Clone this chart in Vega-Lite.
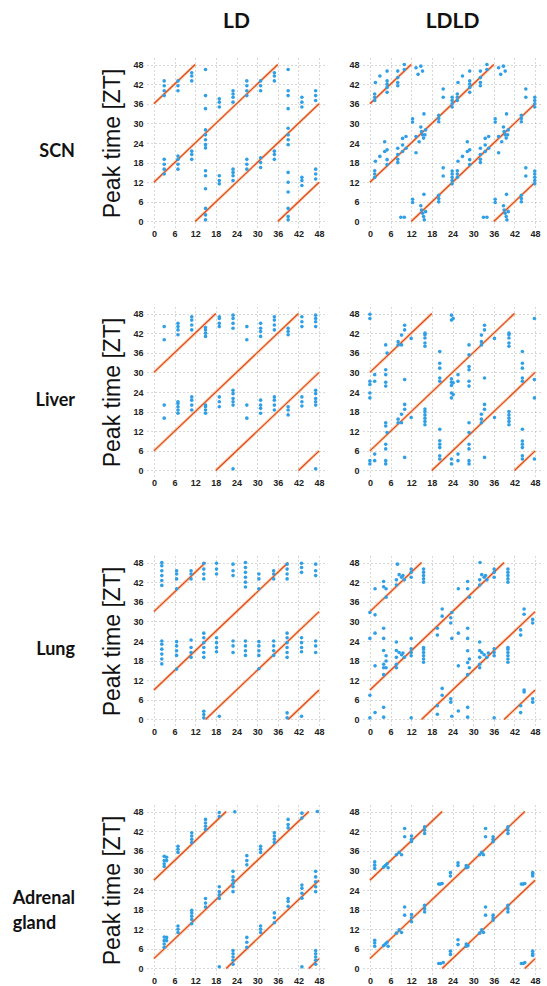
{
"$schema":"https://vega.github.io/schema/vega-lite/v6.json",
"background":"white",
"padding":{"left":12,"top":11,"right":0,"bottom":0},
"config":{
 "view":{"stroke":null},
 "axis":{"domain":false,"ticks":false,"labelOverlap":false,"tickCount":20,"labelFont":"Liberation Sans","labelFontSize":9,"labelFontWeight":"bold","labelColor":"#222","grid":true,"gridColor":"#a8a8a8","gridDash":[1,3],"gridOpacity":0.9,"gridWidth":1,"titleFont":"Liberation Sans","titleFontSize":23,"titleFontWeight":"normal","titleColor":"#111","titlePadding":8},
 "header":{"title":null}
},
"spacing":22,
"hconcat":[
{
 "data":{"name":"d"},
 "transform":[{"filter":"datum.c=='LD'"}],
 "facet":{
  "row":{"field":"t","type":"nominal","sort":["SCN","Liver","Lung","Adrenal gland"],"header":{"title":null,"labelOrient":"left","labelAngle":0,"labelAlign":"left","labelBaseline":"top","labelExpr":"split(datum.value,' ')","labelFont":"Lato","labelFontSize":18,"labelFontWeight":"bold","labelColor":"#111","labelPadding":27,"labelLineHeight":25}},
  "column":{"field":"c","type":"nominal","header":{"title":null,"labelFont":"Lato","labelFontSize":21,"labelFontWeight":"bold","labelColor":"#111","labelPadding":26}}
 },
 "spacing":{"row":69},
 "resolve":{"axis":{"x":"independent"}},
 "spec":{
  "width":179,"height":170,
  "layer":[
   {"transform":[{"filter":"isValid(datum.x2)"}],"mark":{"type":"rule","color":"#f7b67f","strokeWidth":3,"opacity":0.6},
    "encoding":{"x":{"field":"x","type":"quantitative","scale":{"domain":[-2,50],"nice":false},"axis":{"title":null,"values":[0,6,12,18,24,30,36,42,48],"tickCount":20,"labelOverlap":false,"labelPadding":1}},"x2":{"field":"x2"},"y":{"field":"y","type":"quantitative","scale":{"domain":[-2,50],"nice":false},"axis":{"title":"Peak time [ZT]","values":[0,6,12,18,24,30,36,42,48],"tickCount":20,"labelOverlap":false,"labelPadding":4}},"y2":{"field":"y2"}}},
   {"transform":[{"filter":"isValid(datum.x2)"}],"mark":{"type":"rule","color":"#e0481c","strokeWidth":1.2},
    "encoding":{"x":{"field":"x","type":"quantitative"},"x2":{"field":"x2"},"y":{"field":"y","type":"quantitative"},"y2":{"field":"y2"}}},
   {"transform":[{"filter":"!isValid(datum.x2)"}],"mark":{"type":"point","filled":true,"color":"#2f9fe6","size":13,"opacity":1},
    "encoding":{"x":{"field":"x","type":"quantitative"},"y":{"field":"y","type":"quantitative"}}}
  ]
 }
},
{
 "data":{"name":"d"},
 "transform":[{"filter":"datum.c=='LDLD'"}],
 "facet":{
  "row":{"field":"t","type":"nominal","sort":["SCN","Liver","Lung","Adrenal gland"],"header":{"title":null,"labels":false}},
  "column":{"field":"c","type":"nominal","header":{"title":null,"labelFont":"Lato","labelFontSize":21,"labelFontWeight":"bold","labelColor":"#111","labelPadding":26}}
 },
 "spacing":{"row":69},
 "resolve":{"axis":{"x":"independent"}},
 "spec":{
  "width":179,"height":170,
  "layer":[
   {"transform":[{"filter":"isValid(datum.x2)"}],"mark":{"type":"rule","color":"#f7b67f","strokeWidth":3,"opacity":0.6},
    "encoding":{"x":{"field":"x","type":"quantitative","scale":{"domain":[-2,50],"nice":false},"axis":{"title":null,"values":[0,6,12,18,24,30,36,42,48],"tickCount":20,"labelOverlap":false,"labelPadding":1}},"x2":{"field":"x2"},"y":{"field":"y","type":"quantitative","scale":{"domain":[-2,50],"nice":false},"axis":{"title":null,"values":[0,6,12,18,24,30,36,42,48],"tickCount":20,"labelOverlap":false,"labelPadding":4}},"y2":{"field":"y2"}}},
   {"transform":[{"filter":"isValid(datum.x2)"}],"mark":{"type":"rule","color":"#e0481c","strokeWidth":1.2},
    "encoding":{"x":{"field":"x","type":"quantitative"},"x2":{"field":"x2"},"y":{"field":"y","type":"quantitative"},"y2":{"field":"y2"}}},
   {"transform":[{"filter":"!isValid(datum.x2)"}],"mark":{"type":"point","filled":true,"color":"#2f9fe6","size":13,"opacity":1},
    "encoding":{"x":{"field":"x","type":"quantitative"},"y":{"field":"y","type":"quantitative"}}}
  ]
 }
}
],
"datasets":{"d":[
{"c":"LD","t":"SCN","x":0,"y":36,"x2":12,"y2":48},{"c":"LD","t":"SCN","x":0,"y":12,"x2":36,"y2":48},{"c":"LD","t":"SCN","x":12,"y":0,"x2":48,"y2":36},{"c":"LD","t":"SCN","x":36,"y":0,"x2":48,"y2":12},
{"c":"LDLD","t":"SCN","x":0,"y":36,"x2":12,"y2":48},{"c":"LDLD","t":"SCN","x":0,"y":12,"x2":36,"y2":48},{"c":"LDLD","t":"SCN","x":12,"y":0,"x2":48,"y2":36},{"c":"LDLD","t":"SCN","x":36,"y":0,"x2":48,"y2":12},
{"c":"LD","t":"Liver","x":0,"y":30,"x2":18,"y2":48},{"c":"LD","t":"Liver","x":0,"y":6,"x2":42,"y2":48},{"c":"LD","t":"Liver","x":18,"y":0,"x2":48,"y2":30},{"c":"LD","t":"Liver","x":42,"y":0,"x2":48,"y2":6},
{"c":"LDLD","t":"Liver","x":0,"y":30,"x2":18,"y2":48},{"c":"LDLD","t":"Liver","x":0,"y":6,"x2":42,"y2":48},{"c":"LDLD","t":"Liver","x":18,"y":0,"x2":48,"y2":30},{"c":"LDLD","t":"Liver","x":42,"y":0,"x2":48,"y2":6},
{"c":"LD","t":"Lung","x":0,"y":33,"x2":15,"y2":48},{"c":"LD","t":"Lung","x":0,"y":9,"x2":39,"y2":48},{"c":"LD","t":"Lung","x":15,"y":0,"x2":48,"y2":33},{"c":"LD","t":"Lung","x":39,"y":0,"x2":48,"y2":9},
{"c":"LDLD","t":"Lung","x":0,"y":33,"x2":15,"y2":48},{"c":"LDLD","t":"Lung","x":0,"y":9,"x2":39,"y2":48},{"c":"LDLD","t":"Lung","x":15,"y":0,"x2":48,"y2":33},{"c":"LDLD","t":"Lung","x":39,"y":0,"x2":48,"y2":9},
{"c":"LD","t":"Adrenal gland","x":0,"y":27,"x2":21,"y2":48},{"c":"LD","t":"Adrenal gland","x":0,"y":3,"x2":45,"y2":48},{"c":"LD","t":"Adrenal gland","x":21,"y":0,"x2":48,"y2":27},{"c":"LD","t":"Adrenal gland","x":45,"y":0,"x2":48,"y2":3},
{"c":"LDLD","t":"Adrenal gland","x":0,"y":27,"x2":21,"y2":48},{"c":"LDLD","t":"Adrenal gland","x":0,"y":3,"x2":45,"y2":48},{"c":"LDLD","t":"Adrenal gland","x":21,"y":0,"x2":48,"y2":27},{"c":"LDLD","t":"Adrenal gland","x":45,"y":0,"x2":48,"y2":3},

{"c":"LD","t":"SCN","x":3,"y":38.5},{"c":"LD","t":"SCN","x":3,"y":40},{"c":"LD","t":"SCN","x":3,"y":41.5},{"c":"LD","t":"SCN","x":3,"y":43},{"c":"LD","t":"SCN","x":3,"y":14.5},{"c":"LD","t":"SCN","x":3,"y":16},{"c":"LD","t":"SCN","x":3,"y":17.5},{"c":"LD","t":"SCN","x":3,"y":19},
{"c":"LD","t":"SCN","x":7,"y":40},{"c":"LD","t":"SCN","x":7,"y":41.5},{"c":"LD","t":"SCN","x":7,"y":43},{"c":"LD","t":"SCN","x":7,"y":16},{"c":"LD","t":"SCN","x":7,"y":17.5},{"c":"LD","t":"SCN","x":7,"y":19},{"c":"LD","t":"SCN","x":7,"y":20},
{"c":"LD","t":"SCN","x":11,"y":43},{"c":"LD","t":"SCN","x":11,"y":44.5},{"c":"LD","t":"SCN","x":11,"y":45.5},{"c":"LD","t":"SCN","x":11,"y":19},{"c":"LD","t":"SCN","x":11,"y":20.5},{"c":"LD","t":"SCN","x":11,"y":21.5},
{"c":"LD","t":"SCN","x":15,"y":46.5},{"c":"LD","t":"SCN","x":15,"y":38.5},{"c":"LD","t":"SCN","x":15,"y":34.5},{"c":"LD","t":"SCN","x":15,"y":28},{"c":"LD","t":"SCN","x":15,"y":26.5},{"c":"LD","t":"SCN","x":15,"y":25},{"c":"LD","t":"SCN","x":15,"y":23.5},{"c":"LD","t":"SCN","x":15,"y":22.5},{"c":"LD","t":"SCN","x":15,"y":15.5},{"c":"LD","t":"SCN","x":15,"y":14},{"c":"LD","t":"SCN","x":15,"y":10},{"c":"LD","t":"SCN","x":15,"y":4},{"c":"LD","t":"SCN","x":15,"y":2},{"c":"LD","t":"SCN","x":15,"y":0.5},
{"c":"LD","t":"SCN","x":19,"y":35},{"c":"LD","t":"SCN","x":19,"y":36.5},{"c":"LD","t":"SCN","x":19,"y":37.5},{"c":"LD","t":"SCN","x":19,"y":11.5},{"c":"LD","t":"SCN","x":19,"y":12.5},{"c":"LD","t":"SCN","x":19,"y":14},
{"c":"LD","t":"SCN","x":23,"y":36.5},{"c":"LD","t":"SCN","x":23,"y":38},{"c":"LD","t":"SCN","x":23,"y":39},{"c":"LD","t":"SCN","x":23,"y":40},{"c":"LD","t":"SCN","x":23,"y":12.5},{"c":"LD","t":"SCN","x":23,"y":14},{"c":"LD","t":"SCN","x":23,"y":15},{"c":"LD","t":"SCN","x":23,"y":16},
{"c":"LD","t":"SCN","x":27,"y":38.5},{"c":"LD","t":"SCN","x":27,"y":40},{"c":"LD","t":"SCN","x":27,"y":41.5},{"c":"LD","t":"SCN","x":27,"y":43},{"c":"LD","t":"SCN","x":27,"y":16},{"c":"LD","t":"SCN","x":27,"y":17.5},{"c":"LD","t":"SCN","x":27,"y":19},
{"c":"LD","t":"SCN","x":31,"y":40},{"c":"LD","t":"SCN","x":31,"y":41.5},{"c":"LD","t":"SCN","x":31,"y":43},{"c":"LD","t":"SCN","x":31,"y":16.5},{"c":"LD","t":"SCN","x":31,"y":18},{"c":"LD","t":"SCN","x":31,"y":19.5},
{"c":"LD","t":"SCN","x":35,"y":43},{"c":"LD","t":"SCN","x":35,"y":44.5},{"c":"LD","t":"SCN","x":35,"y":45.5},{"c":"LD","t":"SCN","x":35,"y":19},{"c":"LD","t":"SCN","x":35,"y":20.5},{"c":"LD","t":"SCN","x":35,"y":21.5},
{"c":"LD","t":"SCN","x":39,"y":46.5},{"c":"LD","t":"SCN","x":39,"y":40},{"c":"LD","t":"SCN","x":39,"y":38.5},{"c":"LD","t":"SCN","x":39,"y":34.5},{"c":"LD","t":"SCN","x":39,"y":28.5},{"c":"LD","t":"SCN","x":39,"y":26.5},{"c":"LD","t":"SCN","x":39,"y":25},{"c":"LD","t":"SCN","x":39,"y":23.5},{"c":"LD","t":"SCN","x":39,"y":15},{"c":"LD","t":"SCN","x":39,"y":12},{"c":"LD","t":"SCN","x":39,"y":9},{"c":"LD","t":"SCN","x":39,"y":4},{"c":"LD","t":"SCN","x":39,"y":1.5},{"c":"LD","t":"SCN","x":39,"y":0.5},
{"c":"LD","t":"SCN","x":43,"y":35},{"c":"LD","t":"SCN","x":43,"y":36.5},{"c":"LD","t":"SCN","x":43,"y":38},{"c":"LD","t":"SCN","x":43,"y":11},{"c":"LD","t":"SCN","x":43,"y":12.5},{"c":"LD","t":"SCN","x":43,"y":13.5},
{"c":"LD","t":"SCN","x":47,"y":37},{"c":"LD","t":"SCN","x":47,"y":38.5},{"c":"LD","t":"SCN","x":47,"y":40},{"c":"LD","t":"SCN","x":47,"y":13},{"c":"LD","t":"SCN","x":47,"y":14.5},{"c":"LD","t":"SCN","x":47,"y":16},

{"c":"LD","t":"Liver","x":3,"y":44},{"c":"LD","t":"Liver","x":3,"y":40},{"c":"LD","t":"Liver","x":3,"y":20},{"c":"LD","t":"Liver","x":3,"y":16},
{"c":"LD","t":"Liver","x":7,"y":41.5},{"c":"LD","t":"Liver","x":7,"y":43},{"c":"LD","t":"Liver","x":7,"y":44},{"c":"LD","t":"Liver","x":7,"y":45},{"c":"LD","t":"Liver","x":7,"y":17.5},{"c":"LD","t":"Liver","x":7,"y":18.5},{"c":"LD","t":"Liver","x":7,"y":19.5},{"c":"LD","t":"Liver","x":7,"y":20.5},{"c":"LD","t":"Liver","x":7,"y":21},
{"c":"LD","t":"Liver","x":11,"y":43},{"c":"LD","t":"Liver","x":11,"y":44.5},{"c":"LD","t":"Liver","x":11,"y":46},{"c":"LD","t":"Liver","x":11,"y":47},{"c":"LD","t":"Liver","x":11,"y":18.5},{"c":"LD","t":"Liver","x":11,"y":20},{"c":"LD","t":"Liver","x":11,"y":21.5},{"c":"LD","t":"Liver","x":11,"y":22.5},
{"c":"LD","t":"Liver","x":15,"y":41},{"c":"LD","t":"Liver","x":15,"y":42},{"c":"LD","t":"Liver","x":15,"y":43},{"c":"LD","t":"Liver","x":15,"y":43.7},{"c":"LD","t":"Liver","x":15,"y":17.5},{"c":"LD","t":"Liver","x":15,"y":18.5},{"c":"LD","t":"Liver","x":15,"y":19.5},{"c":"LD","t":"Liver","x":15,"y":20},
{"c":"LD","t":"Liver","x":19,"y":44},{"c":"LD","t":"Liver","x":19,"y":45},{"c":"LD","t":"Liver","x":19,"y":46.5},{"c":"LD","t":"Liver","x":19,"y":47},{"c":"LD","t":"Liver","x":19,"y":19.5},{"c":"LD","t":"Liver","x":19,"y":21},{"c":"LD","t":"Liver","x":19,"y":22.5},
{"c":"LD","t":"Liver","x":23,"y":43.5},{"c":"LD","t":"Liver","x":23,"y":45},{"c":"LD","t":"Liver","x":23,"y":46.5},{"c":"LD","t":"Liver","x":23,"y":47.5},{"c":"LD","t":"Liver","x":23,"y":20},{"c":"LD","t":"Liver","x":23,"y":21},{"c":"LD","t":"Liver","x":23,"y":22},{"c":"LD","t":"Liver","x":23,"y":23.5},{"c":"LD","t":"Liver","x":23,"y":24.5},{"c":"LD","t":"Liver","x":23,"y":0.5},
{"c":"LD","t":"Liver","x":27,"y":44},{"c":"LD","t":"Liver","x":27,"y":40},{"c":"LD","t":"Liver","x":27,"y":20},{"c":"LD","t":"Liver","x":27,"y":16},
{"c":"LD","t":"Liver","x":31,"y":41},{"c":"LD","t":"Liver","x":31,"y":42.5},{"c":"LD","t":"Liver","x":31,"y":43.5},{"c":"LD","t":"Liver","x":31,"y":45},{"c":"LD","t":"Liver","x":31,"y":17.5},{"c":"LD","t":"Liver","x":31,"y":19},{"c":"LD","t":"Liver","x":31,"y":20},{"c":"LD","t":"Liver","x":31,"y":21.5},
{"c":"LD","t":"Liver","x":35,"y":43},{"c":"LD","t":"Liver","x":35,"y":44.5},{"c":"LD","t":"Liver","x":35,"y":46},{"c":"LD","t":"Liver","x":35,"y":47},{"c":"LD","t":"Liver","x":35,"y":18.5},{"c":"LD","t":"Liver","x":35,"y":20},{"c":"LD","t":"Liver","x":35,"y":21.5},{"c":"LD","t":"Liver","x":35,"y":22.5},
{"c":"LD","t":"Liver","x":39,"y":41.5},{"c":"LD","t":"Liver","x":39,"y":42.5},{"c":"LD","t":"Liver","x":39,"y":43.5},{"c":"LD","t":"Liver","x":39,"y":17},{"c":"LD","t":"Liver","x":39,"y":18.5},{"c":"LD","t":"Liver","x":39,"y":19.5},
{"c":"LD","t":"Liver","x":43,"y":44},{"c":"LD","t":"Liver","x":43,"y":45.5},{"c":"LD","t":"Liver","x":43,"y":47},{"c":"LD","t":"Liver","x":43,"y":19.7},{"c":"LD","t":"Liver","x":43,"y":21},{"c":"LD","t":"Liver","x":43,"y":22.5},
{"c":"LD","t":"Liver","x":47,"y":44},{"c":"LD","t":"Liver","x":47,"y":45.5},{"c":"LD","t":"Liver","x":47,"y":46.5},{"c":"LD","t":"Liver","x":47,"y":47.5},{"c":"LD","t":"Liver","x":47,"y":20},{"c":"LD","t":"Liver","x":47,"y":21},{"c":"LD","t":"Liver","x":47,"y":22},{"c":"LD","t":"Liver","x":47,"y":23.5},{"c":"LD","t":"Liver","x":47,"y":24.5},{"c":"LD","t":"Liver","x":47,"y":0.5},

{"c":"LD","t":"Lung","x":2.3,"y":41},{"c":"LD","t":"Lung","x":2.3,"y":42.5},{"c":"LD","t":"Lung","x":2.3,"y":44},{"c":"LD","t":"Lung","x":2.3,"y":45.5},{"c":"LD","t":"Lung","x":2.3,"y":47},{"c":"LD","t":"Lung","x":2.3,"y":48},{"c":"LD","t":"Lung","x":2.3,"y":17},{"c":"LD","t":"Lung","x":2.3,"y":18.5},{"c":"LD","t":"Lung","x":2.3,"y":20},{"c":"LD","t":"Lung","x":2.3,"y":21.5},{"c":"LD","t":"Lung","x":2.3,"y":23},{"c":"LD","t":"Lung","x":2.3,"y":24},
{"c":"LD","t":"Lung","x":6.6,"y":43},{"c":"LD","t":"Lung","x":6.6,"y":44.5},{"c":"LD","t":"Lung","x":6.6,"y":45.5},{"c":"LD","t":"Lung","x":6.6,"y":40},{"c":"LD","t":"Lung","x":6.6,"y":19.6},{"c":"LD","t":"Lung","x":6.6,"y":21},{"c":"LD","t":"Lung","x":6.6,"y":22.5},{"c":"LD","t":"Lung","x":6.6,"y":23.8},{"c":"LD","t":"Lung","x":6.6,"y":15.4},
{"c":"LD","t":"Lung","x":10.8,"y":43},{"c":"LD","t":"Lung","x":10.8,"y":44.5},{"c":"LD","t":"Lung","x":10.8,"y":45.5},{"c":"LD","t":"Lung","x":10.8,"y":19},{"c":"LD","t":"Lung","x":10.8,"y":20.5},{"c":"LD","t":"Lung","x":10.8,"y":22},{"c":"LD","t":"Lung","x":10.8,"y":24.3},
{"c":"LD","t":"Lung","x":14.5,"y":43},{"c":"LD","t":"Lung","x":14.5,"y":44.5},{"c":"LD","t":"Lung","x":14.5,"y":46},{"c":"LD","t":"Lung","x":14.5,"y":47.8},{"c":"LD","t":"Lung","x":14.5,"y":19},{"c":"LD","t":"Lung","x":14.5,"y":20.5},{"c":"LD","t":"Lung","x":14.5,"y":22},{"c":"LD","t":"Lung","x":14.5,"y":23.5},{"c":"LD","t":"Lung","x":14.5,"y":25},{"c":"LD","t":"Lung","x":14.5,"y":26.4},{"c":"LD","t":"Lung","x":14.5,"y":0.5},{"c":"LD","t":"Lung","x":14.5,"y":1.5},{"c":"LD","t":"Lung","x":14.5,"y":2.5},
{"c":"LD","t":"Lung","x":18.2,"y":44.5},{"c":"LD","t":"Lung","x":18.2,"y":46},{"c":"LD","t":"Lung","x":18.2,"y":47.8},{"c":"LD","t":"Lung","x":18.2,"y":20.7},{"c":"LD","t":"Lung","x":18.2,"y":22},{"c":"LD","t":"Lung","x":18.2,"y":23.5},{"c":"LD","t":"Lung","x":18.2,"y":25},{"c":"LD","t":"Lung","x":19,"y":1},
{"c":"LD","t":"Lung","x":23,"y":44},{"c":"LD","t":"Lung","x":23,"y":45.5},{"c":"LD","t":"Lung","x":23,"y":47.5},{"c":"LD","t":"Lung","x":23,"y":20.5},{"c":"LD","t":"Lung","x":23,"y":22.5},{"c":"LD","t":"Lung","x":23,"y":24},
{"c":"LD","t":"Lung","x":26.6,"y":40.5},{"c":"LD","t":"Lung","x":26.6,"y":42},{"c":"LD","t":"Lung","x":26.6,"y":43.5},{"c":"LD","t":"Lung","x":26.6,"y":45},{"c":"LD","t":"Lung","x":26.6,"y":46.5},{"c":"LD","t":"Lung","x":26.6,"y":48},{"c":"LD","t":"Lung","x":26.6,"y":19.6},{"c":"LD","t":"Lung","x":26.6,"y":21},{"c":"LD","t":"Lung","x":26.6,"y":22.5},{"c":"LD","t":"Lung","x":26.6,"y":24},
{"c":"LD","t":"Lung","x":30.5,"y":43},{"c":"LD","t":"Lung","x":30.5,"y":44.5},{"c":"LD","t":"Lung","x":30.5,"y":40},{"c":"LD","t":"Lung","x":30.5,"y":19.6},{"c":"LD","t":"Lung","x":30.5,"y":21},{"c":"LD","t":"Lung","x":30.5,"y":22.5},{"c":"LD","t":"Lung","x":30.5,"y":23.8},{"c":"LD","t":"Lung","x":30.5,"y":15.5},
{"c":"LD","t":"Lung","x":34.8,"y":43},{"c":"LD","t":"Lung","x":34.8,"y":44.5},{"c":"LD","t":"Lung","x":34.8,"y":45.5},{"c":"LD","t":"Lung","x":34.8,"y":19.6},{"c":"LD","t":"Lung","x":34.8,"y":21},{"c":"LD","t":"Lung","x":34.8,"y":22.5},{"c":"LD","t":"Lung","x":34.8,"y":24},
{"c":"LD","t":"Lung","x":38.7,"y":43},{"c":"LD","t":"Lung","x":38.7,"y":44.5},{"c":"LD","t":"Lung","x":38.7,"y":46},{"c":"LD","t":"Lung","x":38.7,"y":47.5},{"c":"LD","t":"Lung","x":38.7,"y":19},{"c":"LD","t":"Lung","x":38.7,"y":20.5},{"c":"LD","t":"Lung","x":38.7,"y":22},{"c":"LD","t":"Lung","x":38.7,"y":23.5},{"c":"LD","t":"Lung","x":38.7,"y":25},{"c":"LD","t":"Lung","x":38.7,"y":26.4},{"c":"LD","t":"Lung","x":38.7,"y":0.5},{"c":"LD","t":"Lung","x":38.7,"y":2},
{"c":"LD","t":"Lung","x":42.9,"y":45},{"c":"LD","t":"Lung","x":42.9,"y":46.5},{"c":"LD","t":"Lung","x":42.9,"y":47.8},{"c":"LD","t":"Lung","x":42.9,"y":20.7},{"c":"LD","t":"Lung","x":42.9,"y":22},{"c":"LD","t":"Lung","x":42.9,"y":23.5},{"c":"LD","t":"Lung","x":42.9,"y":25},{"c":"LD","t":"Lung","x":42.9,"y":1},
{"c":"LD","t":"Lung","x":47,"y":44},{"c":"LD","t":"Lung","x":47,"y":45.5},{"c":"LD","t":"Lung","x":47,"y":47.5},{"c":"LD","t":"Lung","x":47,"y":20.5},{"c":"LD","t":"Lung","x":47,"y":22.5},{"c":"LD","t":"Lung","x":47,"y":24},

{"c":"LD","t":"Adrenal gland","x":3,"y":32},{"c":"LD","t":"Adrenal gland","x":3,"y":33},{"c":"LD","t":"Adrenal gland","x":3,"y":34.3},{"c":"LD","t":"Adrenal gland","x":3,"y":31.2},{"c":"LD","t":"Adrenal gland","x":3,"y":6.5},{"c":"LD","t":"Adrenal gland","x":3,"y":7.5},{"c":"LD","t":"Adrenal gland","x":3,"y":8.5},{"c":"LD","t":"Adrenal gland","x":3,"y":9.6},
{"c":"LD","t":"Adrenal gland","x":3.7,"y":33},{"c":"LD","t":"Adrenal gland","x":3.7,"y":34},{"c":"LD","t":"Adrenal gland","x":3.7,"y":8.5},{"c":"LD","t":"Adrenal gland","x":3.7,"y":9.5},
{"c":"LD","t":"Adrenal gland","x":7,"y":35.5},{"c":"LD","t":"Adrenal gland","x":7,"y":36.5},{"c":"LD","t":"Adrenal gland","x":7,"y":37.4},{"c":"LD","t":"Adrenal gland","x":7,"y":11},{"c":"LD","t":"Adrenal gland","x":7,"y":12},{"c":"LD","t":"Adrenal gland","x":7,"y":13},
{"c":"LD","t":"Adrenal gland","x":11,"y":38.5},{"c":"LD","t":"Adrenal gland","x":11,"y":39.5},{"c":"LD","t":"Adrenal gland","x":11,"y":40.5},{"c":"LD","t":"Adrenal gland","x":11,"y":41.5},{"c":"LD","t":"Adrenal gland","x":11,"y":13.7},{"c":"LD","t":"Adrenal gland","x":11,"y":15},{"c":"LD","t":"Adrenal gland","x":11,"y":16},{"c":"LD","t":"Adrenal gland","x":11,"y":17},{"c":"LD","t":"Adrenal gland","x":11,"y":17.8},
{"c":"LD","t":"Adrenal gland","x":15,"y":42.5},{"c":"LD","t":"Adrenal gland","x":15,"y":43.5},{"c":"LD","t":"Adrenal gland","x":15,"y":44.5},{"c":"LD","t":"Adrenal gland","x":15,"y":45.6},{"c":"LD","t":"Adrenal gland","x":15,"y":18.8},{"c":"LD","t":"Adrenal gland","x":15,"y":20},{"c":"LD","t":"Adrenal gland","x":15,"y":21.4},
{"c":"LD","t":"Adrenal gland","x":19,"y":46.5},{"c":"LD","t":"Adrenal gland","x":19,"y":47.7},{"c":"LD","t":"Adrenal gland","x":19,"y":21.4},{"c":"LD","t":"Adrenal gland","x":19,"y":22.5},{"c":"LD","t":"Adrenal gland","x":19,"y":23.5},{"c":"LD","t":"Adrenal gland","x":19,"y":25},{"c":"LD","t":"Adrenal gland","x":19,"y":0.5},
{"c":"LD","t":"Adrenal gland","x":23,"y":23.5},{"c":"LD","t":"Adrenal gland","x":23,"y":25},{"c":"LD","t":"Adrenal gland","x":23,"y":26},{"c":"LD","t":"Adrenal gland","x":23,"y":27},{"c":"LD","t":"Adrenal gland","x":23,"y":28},{"c":"LD","t":"Adrenal gland","x":23,"y":29.7},{"c":"LD","t":"Adrenal gland","x":23,"y":1.3},{"c":"LD","t":"Adrenal gland","x":23,"y":2.5},{"c":"LD","t":"Adrenal gland","x":23,"y":3.5},{"c":"LD","t":"Adrenal gland","x":23,"y":4.5},{"c":"LD","t":"Adrenal gland","x":23,"y":5.5},{"c":"LD","t":"Adrenal gland","x":23.5,"y":47.9},
{"c":"LD","t":"Adrenal gland","x":27,"y":31.7},{"c":"LD","t":"Adrenal gland","x":27,"y":33},{"c":"LD","t":"Adrenal gland","x":27,"y":34.5},{"c":"LD","t":"Adrenal gland","x":27,"y":6.5},{"c":"LD","t":"Adrenal gland","x":27,"y":8},{"c":"LD","t":"Adrenal gland","x":27,"y":9.5},
{"c":"LD","t":"Adrenal gland","x":31,"y":35.5},{"c":"LD","t":"Adrenal gland","x":31,"y":36.5},{"c":"LD","t":"Adrenal gland","x":31,"y":37.4},{"c":"LD","t":"Adrenal gland","x":31,"y":11},{"c":"LD","t":"Adrenal gland","x":31,"y":12},{"c":"LD","t":"Adrenal gland","x":31,"y":13},
{"c":"LD","t":"Adrenal gland","x":35,"y":38.5},{"c":"LD","t":"Adrenal gland","x":35,"y":39.5},{"c":"LD","t":"Adrenal gland","x":35,"y":40.5},{"c":"LD","t":"Adrenal gland","x":35,"y":41.5},{"c":"LD","t":"Adrenal gland","x":35,"y":14},{"c":"LD","t":"Adrenal gland","x":35,"y":15.5},{"c":"LD","t":"Adrenal gland","x":35,"y":17},
{"c":"LD","t":"Adrenal gland","x":39,"y":43},{"c":"LD","t":"Adrenal gland","x":39,"y":44},{"c":"LD","t":"Adrenal gland","x":39,"y":45.6},{"c":"LD","t":"Adrenal gland","x":39,"y":19},{"c":"LD","t":"Adrenal gland","x":39,"y":20.5},{"c":"LD","t":"Adrenal gland","x":39,"y":21.4},
{"c":"LD","t":"Adrenal gland","x":43,"y":46},{"c":"LD","t":"Adrenal gland","x":43,"y":47.5},{"c":"LD","t":"Adrenal gland","x":43,"y":21.5},{"c":"LD","t":"Adrenal gland","x":43,"y":23},{"c":"LD","t":"Adrenal gland","x":43,"y":24.5},{"c":"LD","t":"Adrenal gland","x":43,"y":25.5},{"c":"LD","t":"Adrenal gland","x":43,"y":0.5},
{"c":"LD","t":"Adrenal gland","x":47,"y":23.5},{"c":"LD","t":"Adrenal gland","x":47,"y":25},{"c":"LD","t":"Adrenal gland","x":47,"y":26.5},{"c":"LD","t":"Adrenal gland","x":47,"y":28},{"c":"LD","t":"Adrenal gland","x":47,"y":29.7},{"c":"LD","t":"Adrenal gland","x":47,"y":1.3},{"c":"LD","t":"Adrenal gland","x":47,"y":2.5},{"c":"LD","t":"Adrenal gland","x":47,"y":3.5},{"c":"LD","t":"Adrenal gland","x":47,"y":4.5},{"c":"LD","t":"Adrenal gland","x":47,"y":5.5},{"c":"LD","t":"Adrenal gland","x":47.5,"y":48},

{"c":"LDLD","t":"SCN","x":1.4,"y":37},{"c":"LDLD","t":"SCN","x":1.4,"y":38},{"c":"LDLD","t":"SCN","x":1.4,"y":39},{"c":"LDLD","t":"SCN","x":1.4,"y":13.5},{"c":"LDLD","t":"SCN","x":1.4,"y":14.5},{"c":"LDLD","t":"SCN","x":1.4,"y":15.5},
{"c":"LDLD","t":"SCN","x":1.6,"y":42.5},{"c":"LDLD","t":"SCN","x":1.6,"y":18.4},{"c":"LDLD","t":"SCN","x":2.9,"y":44.5},{"c":"LDLD","t":"SCN","x":2.9,"y":19.9},{"c":"LDLD","t":"SCN","x":4.3,"y":24.4},{"c":"LDLD","t":"SCN","x":4.3,"y":21.4},
{"c":"LDLD","t":"SCN","x":5,"y":46},{"c":"LDLD","t":"SCN","x":5,"y":43},{"c":"LDLD","t":"SCN","x":5,"y":42},{"c":"LDLD","t":"SCN","x":5,"y":41},{"c":"LDLD","t":"SCN","x":5,"y":39.5},{"c":"LDLD","t":"SCN","x":5,"y":21.9},{"c":"LDLD","t":"SCN","x":5,"y":18.9},{"c":"LDLD","t":"SCN","x":5,"y":17.4},
{"c":"LDLD","t":"SCN","x":8.1,"y":46},{"c":"LDLD","t":"SCN","x":8.1,"y":44},{"c":"LDLD","t":"SCN","x":8.1,"y":42.5},{"c":"LDLD","t":"SCN","x":8.1,"y":41.5},{"c":"LDLD","t":"SCN","x":8.1,"y":22.4},{"c":"LDLD","t":"SCN","x":8.1,"y":20.5},{"c":"LDLD","t":"SCN","x":8.1,"y":19},{"c":"LDLD","t":"SCN","x":8.1,"y":18},
{"c":"LDLD","t":"SCN","x":9.5,"y":25.4},{"c":"LDLD","t":"SCN","x":9.5,"y":23.4},{"c":"LDLD","t":"SCN","x":9.5,"y":21.4},{"c":"LDLD","t":"SCN","x":10,"y":48},{"c":"LDLD","t":"SCN","x":10,"y":46.5},{"c":"LDLD","t":"SCN","x":10.5,"y":26},{"c":"LDLD","t":"SCN","x":10.5,"y":22.4},
{"c":"LDLD","t":"SCN","x":12.4,"y":31.4},{"c":"LDLD","t":"SCN","x":12.4,"y":30.4},{"c":"LDLD","t":"SCN","x":12.4,"y":6.8},{"c":"LDLD","t":"SCN","x":12.4,"y":5.8},{"c":"LDLD","t":"SCN","x":9,"y":1.3},{"c":"LDLD","t":"SCN","x":10,"y":1.3},
{"c":"LDLD","t":"SCN","x":13.4,"y":47},{"c":"LDLD","t":"SCN","x":14,"y":45},{"c":"LDLD","t":"SCN","x":13.4,"y":26},{"c":"LDLD","t":"SCN","x":14.3,"y":24.4},{"c":"LDLD","t":"SCN","x":13.4,"y":21},
{"c":"LDLD","t":"SCN","x":14.8,"y":28.9},{"c":"LDLD","t":"SCN","x":15,"y":27.5},{"c":"LDLD","t":"SCN","x":15.3,"y":26.5},{"c":"LDLD","t":"SCN","x":15.6,"y":25.5},{"c":"LDLD","t":"SCN","x":16,"y":26.5},{"c":"LDLD","t":"SCN","x":16.2,"y":28},
{"c":"LDLD","t":"SCN","x":14.8,"y":4.8},{"c":"LDLD","t":"SCN","x":15,"y":3.5},{"c":"LDLD","t":"SCN","x":15.3,"y":2.5},{"c":"LDLD","t":"SCN","x":15.6,"y":1.5},{"c":"LDLD","t":"SCN","x":15.8,"y":0.5},{"c":"LDLD","t":"SCN","x":16.2,"y":3},
{"c":"LDLD","t":"SCN","x":14.8,"y":47.5},{"c":"LDLD","t":"SCN","x":15.3,"y":46},{"c":"LDLD","t":"SCN","x":15.7,"y":32.9},{"c":"LDLD","t":"SCN","x":15.7,"y":8.3},
{"c":"LDLD","t":"SCN","x":20,"y":30.5},{"c":"LDLD","t":"SCN","x":20,"y":31.5},{"c":"LDLD","t":"SCN","x":20,"y":32.5},{"c":"LDLD","t":"SCN","x":20,"y":6},{"c":"LDLD","t":"SCN","x":20,"y":7},{"c":"LDLD","t":"SCN","x":20,"y":8},
{"c":"LDLD","t":"SCN","x":21.3,"y":40.5},{"c":"LDLD","t":"SCN","x":21.3,"y":38},{"c":"LDLD","t":"SCN","x":21.3,"y":16.4},{"c":"LDLD","t":"SCN","x":21.3,"y":13.9},
{"c":"LDLD","t":"SCN","x":23.9,"y":35},{"c":"LDLD","t":"SCN","x":23.9,"y":36},{"c":"LDLD","t":"SCN","x":23.9,"y":37},{"c":"LDLD","t":"SCN","x":23.9,"y":38},{"c":"LDLD","t":"SCN","x":23.9,"y":11.5},{"c":"LDLD","t":"SCN","x":23.9,"y":12.5},{"c":"LDLD","t":"SCN","x":23.9,"y":13.5},{"c":"LDLD","t":"SCN","x":23.9,"y":14.5},{"c":"LDLD","t":"SCN","x":23.9,"y":15.4},
{"c":"LDLD","t":"SCN","x":25.4,"y":37},{"c":"LDLD","t":"SCN","x":25.4,"y":38},{"c":"LDLD","t":"SCN","x":25.4,"y":39},{"c":"LDLD","t":"SCN","x":25.4,"y":13.5},{"c":"LDLD","t":"SCN","x":25.4,"y":14.5},{"c":"LDLD","t":"SCN","x":25.4,"y":15.5},
{"c":"LDLD","t":"SCN","x":25.6,"y":42.5},{"c":"LDLD","t":"SCN","x":25.6,"y":18.4},{"c":"LDLD","t":"SCN","x":26.9,"y":44.5},{"c":"LDLD","t":"SCN","x":26.9,"y":19.9},{"c":"LDLD","t":"SCN","x":28.3,"y":24.4},{"c":"LDLD","t":"SCN","x":28.3,"y":21.4},
{"c":"LDLD","t":"SCN","x":29,"y":46},{"c":"LDLD","t":"SCN","x":29,"y":43},{"c":"LDLD","t":"SCN","x":29,"y":42},{"c":"LDLD","t":"SCN","x":29,"y":41},{"c":"LDLD","t":"SCN","x":29,"y":39.5},{"c":"LDLD","t":"SCN","x":29,"y":21.9},{"c":"LDLD","t":"SCN","x":29,"y":18.9},{"c":"LDLD","t":"SCN","x":29,"y":17.4},
{"c":"LDLD","t":"SCN","x":32.1,"y":46},{"c":"LDLD","t":"SCN","x":32.1,"y":44},{"c":"LDLD","t":"SCN","x":32.1,"y":42.5},{"c":"LDLD","t":"SCN","x":32.1,"y":41.5},{"c":"LDLD","t":"SCN","x":32.1,"y":22.4},{"c":"LDLD","t":"SCN","x":32.1,"y":20.5},{"c":"LDLD","t":"SCN","x":32.1,"y":19},{"c":"LDLD","t":"SCN","x":32.1,"y":18},
{"c":"LDLD","t":"SCN","x":33.5,"y":25.4},{"c":"LDLD","t":"SCN","x":33.5,"y":23.4},{"c":"LDLD","t":"SCN","x":33.5,"y":21.4},{"c":"LDLD","t":"SCN","x":34,"y":48},{"c":"LDLD","t":"SCN","x":34,"y":46.5},{"c":"LDLD","t":"SCN","x":34.5,"y":26},{"c":"LDLD","t":"SCN","x":34.5,"y":22.4},
{"c":"LDLD","t":"SCN","x":36.4,"y":31.4},{"c":"LDLD","t":"SCN","x":36.4,"y":30.4},{"c":"LDLD","t":"SCN","x":36.4,"y":6.8},{"c":"LDLD","t":"SCN","x":36.4,"y":5.8},{"c":"LDLD","t":"SCN","x":33,"y":1.3},{"c":"LDLD","t":"SCN","x":34,"y":1.3},
{"c":"LDLD","t":"SCN","x":37.4,"y":47},{"c":"LDLD","t":"SCN","x":38,"y":45},{"c":"LDLD","t":"SCN","x":37.4,"y":26},{"c":"LDLD","t":"SCN","x":38.3,"y":24.4},{"c":"LDLD","t":"SCN","x":37.4,"y":21},
{"c":"LDLD","t":"SCN","x":38.8,"y":28.9},{"c":"LDLD","t":"SCN","x":39,"y":27.5},{"c":"LDLD","t":"SCN","x":39.3,"y":26.5},{"c":"LDLD","t":"SCN","x":39.6,"y":25.5},{"c":"LDLD","t":"SCN","x":40,"y":26.5},{"c":"LDLD","t":"SCN","x":40.2,"y":28},
{"c":"LDLD","t":"SCN","x":38.8,"y":4.8},{"c":"LDLD","t":"SCN","x":39,"y":3.5},{"c":"LDLD","t":"SCN","x":39.3,"y":2.5},{"c":"LDLD","t":"SCN","x":39.6,"y":1.5},{"c":"LDLD","t":"SCN","x":39.8,"y":0.5},{"c":"LDLD","t":"SCN","x":40.2,"y":3},
{"c":"LDLD","t":"SCN","x":38.8,"y":47.5},{"c":"LDLD","t":"SCN","x":39.3,"y":46},{"c":"LDLD","t":"SCN","x":39.7,"y":32.9},{"c":"LDLD","t":"SCN","x":39.7,"y":8.3},
{"c":"LDLD","t":"SCN","x":44,"y":30.5},{"c":"LDLD","t":"SCN","x":44,"y":31.5},{"c":"LDLD","t":"SCN","x":44,"y":32.5},{"c":"LDLD","t":"SCN","x":44,"y":6},{"c":"LDLD","t":"SCN","x":44,"y":7},{"c":"LDLD","t":"SCN","x":44,"y":8},
{"c":"LDLD","t":"SCN","x":45.3,"y":40.5},{"c":"LDLD","t":"SCN","x":45.3,"y":38},{"c":"LDLD","t":"SCN","x":45.3,"y":16.4},{"c":"LDLD","t":"SCN","x":45.3,"y":13.9},
{"c":"LDLD","t":"SCN","x":47.9,"y":35},{"c":"LDLD","t":"SCN","x":47.9,"y":36},{"c":"LDLD","t":"SCN","x":47.9,"y":37},{"c":"LDLD","t":"SCN","x":47.9,"y":38},{"c":"LDLD","t":"SCN","x":47.9,"y":11.5},{"c":"LDLD","t":"SCN","x":47.9,"y":12.5},{"c":"LDLD","t":"SCN","x":47.9,"y":13.5},{"c":"LDLD","t":"SCN","x":47.9,"y":14.5},{"c":"LDLD","t":"SCN","x":47.9,"y":15.4},

{"c":"LDLD","t":"Liver","x":0,"y":47.8},{"c":"LDLD","t":"Liver","x":0,"y":46.5},{"c":"LDLD","t":"Liver","x":0,"y":27.3},{"c":"LDLD","t":"Liver","x":0,"y":26.3},{"c":"LDLD","t":"Liver","x":0,"y":23.7},{"c":"LDLD","t":"Liver","x":0,"y":22.2},{"c":"LDLD","t":"Liver","x":0,"y":3},{"c":"LDLD","t":"Liver","x":0,"y":2},
{"c":"LDLD","t":"Liver","x":1.4,"y":29.3},{"c":"LDLD","t":"Liver","x":1.4,"y":27.3},{"c":"LDLD","t":"Liver","x":1.4,"y":5},{"c":"LDLD","t":"Liver","x":1.4,"y":3},
{"c":"LDLD","t":"Liver","x":4.6,"y":38.4},{"c":"LDLD","t":"Liver","x":4.6,"y":30.8},{"c":"LDLD","t":"Liver","x":4.6,"y":29.3},{"c":"LDLD","t":"Liver","x":4.6,"y":27},{"c":"LDLD","t":"Liver","x":4.6,"y":25.8},{"c":"LDLD","t":"Liver","x":4.6,"y":14.6},{"c":"LDLD","t":"Liver","x":4.6,"y":13.6},{"c":"LDLD","t":"Liver","x":4.6,"y":8},{"c":"LDLD","t":"Liver","x":4.6,"y":6.6},{"c":"LDLD","t":"Liver","x":4.6,"y":3},{"c":"LDLD","t":"Liver","x":4.6,"y":2},
{"c":"LDLD","t":"Liver","x":5,"y":35.9},{"c":"LDLD","t":"Liver","x":5,"y":11.6},
{"c":"LDLD","t":"Liver","x":8.2,"y":39.4},{"c":"LDLD","t":"Liver","x":8.2,"y":38.4},{"c":"LDLD","t":"Liver","x":8.2,"y":15.7},{"c":"LDLD","t":"Liver","x":8.2,"y":14.6},
{"c":"LDLD","t":"Liver","x":9.2,"y":41.4},{"c":"LDLD","t":"Liver","x":9.2,"y":38.4},{"c":"LDLD","t":"Liver","x":9.2,"y":17.2},{"c":"LDLD","t":"Liver","x":9.2,"y":14.6},
{"c":"LDLD","t":"Liver","x":10.1,"y":44.4},{"c":"LDLD","t":"Liver","x":10.1,"y":43},{"c":"LDLD","t":"Liver","x":10.1,"y":20.2},{"c":"LDLD","t":"Liver","x":10.1,"y":18.7},{"c":"LDLD","t":"Liver","x":10.1,"y":27.8},{"c":"LDLD","t":"Liver","x":10.1,"y":4},
{"c":"LDLD","t":"Liver","x":12,"y":40.4},{"c":"LDLD","t":"Liver","x":12,"y":16.2},
{"c":"LDLD","t":"Liver","x":16,"y":38},{"c":"LDLD","t":"Liver","x":16,"y":39},{"c":"LDLD","t":"Liver","x":16,"y":40.5},{"c":"LDLD","t":"Liver","x":16,"y":41.5},{"c":"LDLD","t":"Liver","x":16,"y":42},{"c":"LDLD","t":"Liver","x":16,"y":14},{"c":"LDLD","t":"Liver","x":16,"y":15},{"c":"LDLD","t":"Liver","x":16,"y":16},{"c":"LDLD","t":"Liver","x":16,"y":17},{"c":"LDLD","t":"Liver","x":16,"y":18},{"c":"LDLD","t":"Liver","x":16,"y":18.8},
{"c":"LDLD","t":"Liver","x":20.3,"y":36.4},{"c":"LDLD","t":"Liver","x":20.3,"y":32.8},{"c":"LDLD","t":"Liver","x":20.3,"y":31.3},{"c":"LDLD","t":"Liver","x":20.3,"y":28.3},{"c":"LDLD","t":"Liver","x":20.3,"y":27.3},{"c":"LDLD","t":"Liver","x":20.3,"y":12.6},{"c":"LDLD","t":"Liver","x":20.3,"y":9.1},{"c":"LDLD","t":"Liver","x":20.3,"y":8},{"c":"LDLD","t":"Liver","x":20.3,"y":7},{"c":"LDLD","t":"Liver","x":20.3,"y":4.5},{"c":"LDLD","t":"Liver","x":20.3,"y":3.5},
{"c":"LDLD","t":"Liver","x":23.7,"y":47.5},{"c":"LDLD","t":"Liver","x":23.7,"y":46},{"c":"LDLD","t":"Liver","x":23.7,"y":28},{"c":"LDLD","t":"Liver","x":23.7,"y":27},{"c":"LDLD","t":"Liver","x":23.7,"y":26},{"c":"LDLD","t":"Liver","x":23.7,"y":23.7},{"c":"LDLD","t":"Liver","x":23.7,"y":22.2},{"c":"LDLD","t":"Liver","x":23.7,"y":3.5},{"c":"LDLD","t":"Liver","x":23.7,"y":2},
{"c":"LDLD","t":"Liver","x":24.2,"y":46.5},{"c":"LDLD","t":"Liver","x":24.2,"y":26.8},{"c":"LDLD","t":"Liver","x":24.2,"y":23.2},
{"c":"LDLD","t":"Liver","x":25.6,"y":29.3},{"c":"LDLD","t":"Liver","x":25.6,"y":27.3},{"c":"LDLD","t":"Liver","x":25.6,"y":5},{"c":"LDLD","t":"Liver","x":25.6,"y":3},
{"c":"LDLD","t":"Liver","x":28.8,"y":38.4},{"c":"LDLD","t":"Liver","x":28.8,"y":35.4},{"c":"LDLD","t":"Liver","x":28.8,"y":31.8},{"c":"LDLD","t":"Liver","x":28.8,"y":30.8},{"c":"LDLD","t":"Liver","x":28.8,"y":27.3},{"c":"LDLD","t":"Liver","x":28.8,"y":25.8},{"c":"LDLD","t":"Liver","x":28.8,"y":14.6},{"c":"LDLD","t":"Liver","x":28.8,"y":11.6},{"c":"LDLD","t":"Liver","x":28.8,"y":8},{"c":"LDLD","t":"Liver","x":28.8,"y":6.6},{"c":"LDLD","t":"Liver","x":28.8,"y":3},{"c":"LDLD","t":"Liver","x":28.8,"y":2},
{"c":"LDLD","t":"Liver","x":32.4,"y":39.4},{"c":"LDLD","t":"Liver","x":32.4,"y":38.4},{"c":"LDLD","t":"Liver","x":32.4,"y":41.4},{"c":"LDLD","t":"Liver","x":32.4,"y":15.7},{"c":"LDLD","t":"Liver","x":32.4,"y":14.6},{"c":"LDLD","t":"Liver","x":32.4,"y":17.2},
{"c":"LDLD","t":"Liver","x":33.3,"y":44.4},{"c":"LDLD","t":"Liver","x":33.3,"y":43},{"c":"LDLD","t":"Liver","x":33.3,"y":20.2},{"c":"LDLD","t":"Liver","x":33.3,"y":18.7},{"c":"LDLD","t":"Liver","x":33.3,"y":28.3},{"c":"LDLD","t":"Liver","x":33.3,"y":4},
{"c":"LDLD","t":"Liver","x":36.2,"y":40.4},{"c":"LDLD","t":"Liver","x":36.2,"y":16.2},
{"c":"LDLD","t":"Liver","x":40.4,"y":38},{"c":"LDLD","t":"Liver","x":40.4,"y":39},{"c":"LDLD","t":"Liver","x":40.4,"y":40.5},{"c":"LDLD","t":"Liver","x":40.4,"y":41.5},{"c":"LDLD","t":"Liver","x":40.4,"y":42},{"c":"LDLD","t":"Liver","x":40.4,"y":14},{"c":"LDLD","t":"Liver","x":40.4,"y":15},{"c":"LDLD","t":"Liver","x":40.4,"y":16},{"c":"LDLD","t":"Liver","x":40.4,"y":17},{"c":"LDLD","t":"Liver","x":40.4,"y":18},
{"c":"LDLD","t":"Liver","x":44.3,"y":36.4},{"c":"LDLD","t":"Liver","x":44.3,"y":32.8},{"c":"LDLD","t":"Liver","x":44.3,"y":31.3},{"c":"LDLD","t":"Liver","x":44.3,"y":28.3},{"c":"LDLD","t":"Liver","x":44.3,"y":27.3},{"c":"LDLD","t":"Liver","x":44.3,"y":12.6},{"c":"LDLD","t":"Liver","x":44.3,"y":9},{"c":"LDLD","t":"Liver","x":44.3,"y":8},{"c":"LDLD","t":"Liver","x":44.3,"y":7},{"c":"LDLD","t":"Liver","x":44.3,"y":4.5},{"c":"LDLD","t":"Liver","x":44.3,"y":3.5},
{"c":"LDLD","t":"Liver","x":47.8,"y":46.5},{"c":"LDLD","t":"Liver","x":47.8,"y":27.8},{"c":"LDLD","t":"Liver","x":47.8,"y":22.2},{"c":"LDLD","t":"Liver","x":47.8,"y":3.5},

{"c":"LDLD","t":"Lung","x":0,"y":32.7},{"c":"LDLD","t":"Lung","x":0,"y":24.8},{"c":"LDLD","t":"Lung","x":0,"y":7.4},{"c":"LDLD","t":"Lung","x":0,"y":0.5},
{"c":"LDLD","t":"Lung","x":1.5,"y":40},{"c":"LDLD","t":"Lung","x":1.5,"y":32},{"c":"LDLD","t":"Lung","x":1.5,"y":26.4},{"c":"LDLD","t":"Lung","x":1.5,"y":16.4},{"c":"LDLD","t":"Lung","x":1.5,"y":2.1},
{"c":"LDLD","t":"Lung","x":4,"y":42.2},{"c":"LDLD","t":"Lung","x":4,"y":40.6},{"c":"LDLD","t":"Lung","x":4,"y":27.9},{"c":"LDLD","t":"Lung","x":4,"y":24.8},{"c":"LDLD","t":"Lung","x":4,"y":21.1},{"c":"LDLD","t":"Lung","x":4,"y":16.9},{"c":"LDLD","t":"Lung","x":4,"y":15.8},{"c":"LDLD","t":"Lung","x":4,"y":13.7},{"c":"LDLD","t":"Lung","x":4,"y":3.7},{"c":"LDLD","t":"Lung","x":4,"y":0.7},
{"c":"LDLD","t":"Lung","x":4.7,"y":40},{"c":"LDLD","t":"Lung","x":4.7,"y":37.4},{"c":"LDLD","t":"Lung","x":4.7,"y":19.5},{"c":"LDLD","t":"Lung","x":4.7,"y":17.9},{"c":"LDLD","t":"Lung","x":4.7,"y":15.8},
{"c":"LDLD","t":"Lung","x":7.7,"y":42.7},{"c":"LDLD","t":"Lung","x":7.7,"y":41.1},{"c":"LDLD","t":"Lung","x":7.7,"y":23.7},{"c":"LDLD","t":"Lung","x":7.7,"y":21.1},{"c":"LDLD","t":"Lung","x":7.7,"y":19},{"c":"LDLD","t":"Lung","x":7.7,"y":16.9},{"c":"LDLD","t":"Lung","x":7.7,"y":15.8},
{"c":"LDLD","t":"Lung","x":8.5,"y":44.3},{"c":"LDLD","t":"Lung","x":9.2,"y":43.5},{"c":"LDLD","t":"Lung","x":10,"y":42.7},{"c":"LDLD","t":"Lung","x":9.6,"y":44},{"c":"LDLD","t":"Lung","x":8.5,"y":20.5},{"c":"LDLD","t":"Lung","x":9.2,"y":19.8},{"c":"LDLD","t":"Lung","x":10,"y":19},{"c":"LDLD","t":"Lung","x":9.6,"y":20.3},{"c":"LDLD","t":"Lung","x":8,"y":47.5},
{"c":"LDLD","t":"Lung","x":12,"y":43.5},{"c":"LDLD","t":"Lung","x":12,"y":45},{"c":"LDLD","t":"Lung","x":12,"y":46},{"c":"LDLD","t":"Lung","x":12,"y":19.5},{"c":"LDLD","t":"Lung","x":12,"y":20.5},{"c":"LDLD","t":"Lung","x":12,"y":21.6},{"c":"LDLD","t":"Lung","x":12,"y":24.8},{"c":"LDLD","t":"Lung","x":12,"y":0.5},
{"c":"LDLD","t":"Lung","x":15.6,"y":42},{"c":"LDLD","t":"Lung","x":15.6,"y":43},{"c":"LDLD","t":"Lung","x":15.6,"y":44},{"c":"LDLD","t":"Lung","x":15.6,"y":45},{"c":"LDLD","t":"Lung","x":15.6,"y":46},{"c":"LDLD","t":"Lung","x":15.6,"y":17.5},{"c":"LDLD","t":"Lung","x":15.6,"y":18.5},{"c":"LDLD","t":"Lung","x":15.6,"y":19.5},{"c":"LDLD","t":"Lung","x":15.6,"y":20.5},{"c":"LDLD","t":"Lung","x":15.6,"y":21.5},{"c":"LDLD","t":"Lung","x":15.6,"y":22},
{"c":"LDLD","t":"Lung","x":19.6,"y":27.9},{"c":"LDLD","t":"Lung","x":19.6,"y":25.8},{"c":"LDLD","t":"Lung","x":19.6,"y":4.2},{"c":"LDLD","t":"Lung","x":19.6,"y":1.6},
{"c":"LDLD","t":"Lung","x":21,"y":33.8},{"c":"LDLD","t":"Lung","x":21,"y":31.6},{"c":"LDLD","t":"Lung","x":21,"y":9.5},{"c":"LDLD","t":"Lung","x":21,"y":7.4},
{"c":"LDLD","t":"Lung","x":23.5,"y":31.1},{"c":"LDLD","t":"Lung","x":23.5,"y":29.5},{"c":"LDLD","t":"Lung","x":23.5,"y":6.3},{"c":"LDLD","t":"Lung","x":23.5,"y":5.3},
{"c":"LDLD","t":"Lung","x":23.8,"y":32.7},{"c":"LDLD","t":"Lung","x":23.8,"y":24.8},{"c":"LDLD","t":"Lung","x":23.8,"y":1},
{"c":"LDLD","t":"Lung","x":25.7,"y":40},{"c":"LDLD","t":"Lung","x":25.7,"y":26.4},{"c":"LDLD","t":"Lung","x":25.7,"y":16.4},{"c":"LDLD","t":"Lung","x":25.7,"y":2.6},
{"c":"LDLD","t":"Lung","x":28.4,"y":42.2},{"c":"LDLD","t":"Lung","x":28.4,"y":40},{"c":"LDLD","t":"Lung","x":28.4,"y":27.9},{"c":"LDLD","t":"Lung","x":28.4,"y":24.8},{"c":"LDLD","t":"Lung","x":28.4,"y":21},{"c":"LDLD","t":"Lung","x":28.4,"y":17.4},{"c":"LDLD","t":"Lung","x":28.4,"y":13.7},{"c":"LDLD","t":"Lung","x":28.4,"y":3.7},{"c":"LDLD","t":"Lung","x":28.4,"y":0.7},
{"c":"LDLD","t":"Lung","x":28.9,"y":37.4},{"c":"LDLD","t":"Lung","x":28.9,"y":18.5},{"c":"LDLD","t":"Lung","x":28.9,"y":15.8},
{"c":"LDLD","t":"Lung","x":31.9,"y":42.7},{"c":"LDLD","t":"Lung","x":31.9,"y":41.1},{"c":"LDLD","t":"Lung","x":31.9,"y":23.7},{"c":"LDLD","t":"Lung","x":31.9,"y":21.1},{"c":"LDLD","t":"Lung","x":31.9,"y":19},{"c":"LDLD","t":"Lung","x":31.9,"y":16.9},{"c":"LDLD","t":"Lung","x":31.9,"y":15.8},
{"c":"LDLD","t":"Lung","x":32.5,"y":44.3},{"c":"LDLD","t":"Lung","x":33.2,"y":43.5},{"c":"LDLD","t":"Lung","x":34,"y":42.7},{"c":"LDLD","t":"Lung","x":33.6,"y":44},{"c":"LDLD","t":"Lung","x":32.5,"y":20.5},{"c":"LDLD","t":"Lung","x":33.2,"y":19.8},{"c":"LDLD","t":"Lung","x":34,"y":19},{"c":"LDLD","t":"Lung","x":34.4,"y":20.3},{"c":"LDLD","t":"Lung","x":32,"y":48},
{"c":"LDLD","t":"Lung","x":36.1,"y":43.5},{"c":"LDLD","t":"Lung","x":36.1,"y":45},{"c":"LDLD","t":"Lung","x":36.1,"y":46},{"c":"LDLD","t":"Lung","x":36.1,"y":19.5},{"c":"LDLD","t":"Lung","x":36.1,"y":20.5},{"c":"LDLD","t":"Lung","x":36.1,"y":21.6},{"c":"LDLD","t":"Lung","x":36.1,"y":0.5},
{"c":"LDLD","t":"Lung","x":40.1,"y":42},{"c":"LDLD","t":"Lung","x":40.1,"y":43},{"c":"LDLD","t":"Lung","x":40.1,"y":44},{"c":"LDLD","t":"Lung","x":40.1,"y":45},{"c":"LDLD","t":"Lung","x":40.1,"y":46},{"c":"LDLD","t":"Lung","x":40.1,"y":17.5},{"c":"LDLD","t":"Lung","x":40.1,"y":18.5},{"c":"LDLD","t":"Lung","x":40.1,"y":19.5},{"c":"LDLD","t":"Lung","x":40.1,"y":20.5},{"c":"LDLD","t":"Lung","x":40.1,"y":21.5},{"c":"LDLD","t":"Lung","x":40.1,"y":22},
{"c":"LDLD","t":"Lung","x":43.8,"y":27.4},{"c":"LDLD","t":"Lung","x":43.8,"y":25.8},{"c":"LDLD","t":"Lung","x":43.8,"y":4.2},{"c":"LDLD","t":"Lung","x":43.8,"y":2.1},
{"c":"LDLD","t":"Lung","x":44.8,"y":33.8},{"c":"LDLD","t":"Lung","x":44.8,"y":32.2},{"c":"LDLD","t":"Lung","x":44.8,"y":9},{"c":"LDLD","t":"Lung","x":44.8,"y":8.4},
{"c":"LDLD","t":"Lung","x":47.3,"y":30.6},{"c":"LDLD","t":"Lung","x":47.3,"y":29.5},{"c":"LDLD","t":"Lung","x":47.3,"y":6.3},{"c":"LDLD","t":"Lung","x":47.3,"y":5.3},

{"c":"LDLD","t":"Adrenal gland","x":1.4,"y":30.6},{"c":"LDLD","t":"Adrenal gland","x":1.4,"y":31.6},{"c":"LDLD","t":"Adrenal gland","x":1.4,"y":32.6},{"c":"LDLD","t":"Adrenal gland","x":1.4,"y":6.8},{"c":"LDLD","t":"Adrenal gland","x":1.4,"y":7.8},{"c":"LDLD","t":"Adrenal gland","x":1.4,"y":8.6},
{"c":"LDLD","t":"Adrenal gland","x":4,"y":31},{"c":"LDLD","t":"Adrenal gland","x":4.5,"y":31.5},{"c":"LDLD","t":"Adrenal gland","x":5,"y":32},{"c":"LDLD","t":"Adrenal gland","x":5.3,"y":30.8},{"c":"LDLD","t":"Adrenal gland","x":4,"y":7},{"c":"LDLD","t":"Adrenal gland","x":4.5,"y":7.5},{"c":"LDLD","t":"Adrenal gland","x":5,"y":8},{"c":"LDLD","t":"Adrenal gland","x":5.3,"y":6.8},
{"c":"LDLD","t":"Adrenal gland","x":7.7,"y":34.8},{"c":"LDLD","t":"Adrenal gland","x":8.5,"y":35.5},{"c":"LDLD","t":"Adrenal gland","x":9.2,"y":34.8},{"c":"LDLD","t":"Adrenal gland","x":7.7,"y":10.8},{"c":"LDLD","t":"Adrenal gland","x":8.5,"y":11.8},{"c":"LDLD","t":"Adrenal gland","x":9.2,"y":11},
{"c":"LDLD","t":"Adrenal gland","x":10.1,"y":42.8},{"c":"LDLD","t":"Adrenal gland","x":10.1,"y":40.3},{"c":"LDLD","t":"Adrenal gland","x":10.1,"y":18.8},{"c":"LDLD","t":"Adrenal gland","x":10.1,"y":16.3},
{"c":"LDLD","t":"Adrenal gland","x":12.1,"y":38.8},{"c":"LDLD","t":"Adrenal gland","x":12.1,"y":39.5},{"c":"LDLD","t":"Adrenal gland","x":12.1,"y":40.5},{"c":"LDLD","t":"Adrenal gland","x":12.1,"y":14.3},{"c":"LDLD","t":"Adrenal gland","x":12.1,"y":15.5},{"c":"LDLD","t":"Adrenal gland","x":12.1,"y":16.5},
{"c":"LDLD","t":"Adrenal gland","x":15.9,"y":41.3},{"c":"LDLD","t":"Adrenal gland","x":15.9,"y":42.3},{"c":"LDLD","t":"Adrenal gland","x":15.9,"y":43.3},{"c":"LDLD","t":"Adrenal gland","x":15.9,"y":17.3},{"c":"LDLD","t":"Adrenal gland","x":15.9,"y":18.3},{"c":"LDLD","t":"Adrenal gland","x":15.9,"y":19.3},
{"c":"LDLD","t":"Adrenal gland","x":20,"y":25.8},{"c":"LDLD","t":"Adrenal gland","x":20.5,"y":25.8},{"c":"LDLD","t":"Adrenal gland","x":21,"y":26},{"c":"LDLD","t":"Adrenal gland","x":20,"y":1.5},{"c":"LDLD","t":"Adrenal gland","x":20.5,"y":1.5},{"c":"LDLD","t":"Adrenal gland","x":21.3,"y":1.8},
{"c":"LDLD","t":"Adrenal gland","x":23.4,"y":29.3},{"c":"LDLD","t":"Adrenal gland","x":23.4,"y":28.3},{"c":"LDLD","t":"Adrenal gland","x":23.4,"y":5.3},{"c":"LDLD","t":"Adrenal gland","x":23.4,"y":4.3},
{"c":"LDLD","t":"Adrenal gland","x":25.6,"y":32.3},{"c":"LDLD","t":"Adrenal gland","x":25.6,"y":31.5},{"c":"LDLD","t":"Adrenal gland","x":25.6,"y":8.8},{"c":"LDLD","t":"Adrenal gland","x":25.6,"y":7.3},
{"c":"LDLD","t":"Adrenal gland","x":28,"y":30.8},{"c":"LDLD","t":"Adrenal gland","x":28,"y":31.5},{"c":"LDLD","t":"Adrenal gland","x":28.5,"y":31},{"c":"LDLD","t":"Adrenal gland","x":28,"y":6.8},{"c":"LDLD","t":"Adrenal gland","x":28,"y":7.5},{"c":"LDLD","t":"Adrenal gland","x":28.5,"y":7},
{"c":"LDLD","t":"Adrenal gland","x":31.9,"y":34.8},{"c":"LDLD","t":"Adrenal gland","x":32.5,"y":35.5},{"c":"LDLD","t":"Adrenal gland","x":33,"y":34.8},{"c":"LDLD","t":"Adrenal gland","x":31.9,"y":10.8},{"c":"LDLD","t":"Adrenal gland","x":32.5,"y":11.8},{"c":"LDLD","t":"Adrenal gland","x":33,"y":11},
{"c":"LDLD","t":"Adrenal gland","x":33.6,"y":42.8},{"c":"LDLD","t":"Adrenal gland","x":33.6,"y":40.3},{"c":"LDLD","t":"Adrenal gland","x":33.6,"y":18.8},{"c":"LDLD","t":"Adrenal gland","x":33.6,"y":16.3},
{"c":"LDLD","t":"Adrenal gland","x":35.8,"y":38.8},{"c":"LDLD","t":"Adrenal gland","x":35.8,"y":39.5},{"c":"LDLD","t":"Adrenal gland","x":35.8,"y":40.3},{"c":"LDLD","t":"Adrenal gland","x":35.8,"y":14.8},{"c":"LDLD","t":"Adrenal gland","x":35.8,"y":15.5},{"c":"LDLD","t":"Adrenal gland","x":35.8,"y":16.3},
{"c":"LDLD","t":"Adrenal gland","x":40.1,"y":41.3},{"c":"LDLD","t":"Adrenal gland","x":40.1,"y":42.3},{"c":"LDLD","t":"Adrenal gland","x":40.1,"y":43.3},{"c":"LDLD","t":"Adrenal gland","x":40.1,"y":17.3},{"c":"LDLD","t":"Adrenal gland","x":40.1,"y":18.3},{"c":"LDLD","t":"Adrenal gland","x":40.1,"y":19.3},
{"c":"LDLD","t":"Adrenal gland","x":44,"y":25.8},{"c":"LDLD","t":"Adrenal gland","x":44.5,"y":25.8},{"c":"LDLD","t":"Adrenal gland","x":45,"y":26},{"c":"LDLD","t":"Adrenal gland","x":44,"y":1.5},{"c":"LDLD","t":"Adrenal gland","x":44.5,"y":1.5},{"c":"LDLD","t":"Adrenal gland","x":45,"y":1.8},
{"c":"LDLD","t":"Adrenal gland","x":47.3,"y":28.3},{"c":"LDLD","t":"Adrenal gland","x":47.3,"y":29},{"c":"LDLD","t":"Adrenal gland","x":47.3,"y":29.3},{"c":"LDLD","t":"Adrenal gland","x":47.3,"y":4},{"c":"LDLD","t":"Adrenal gland","x":47.3,"y":4.5},{"c":"LDLD","t":"Adrenal gland","x":47.3,"y":5.3}
]}
}
